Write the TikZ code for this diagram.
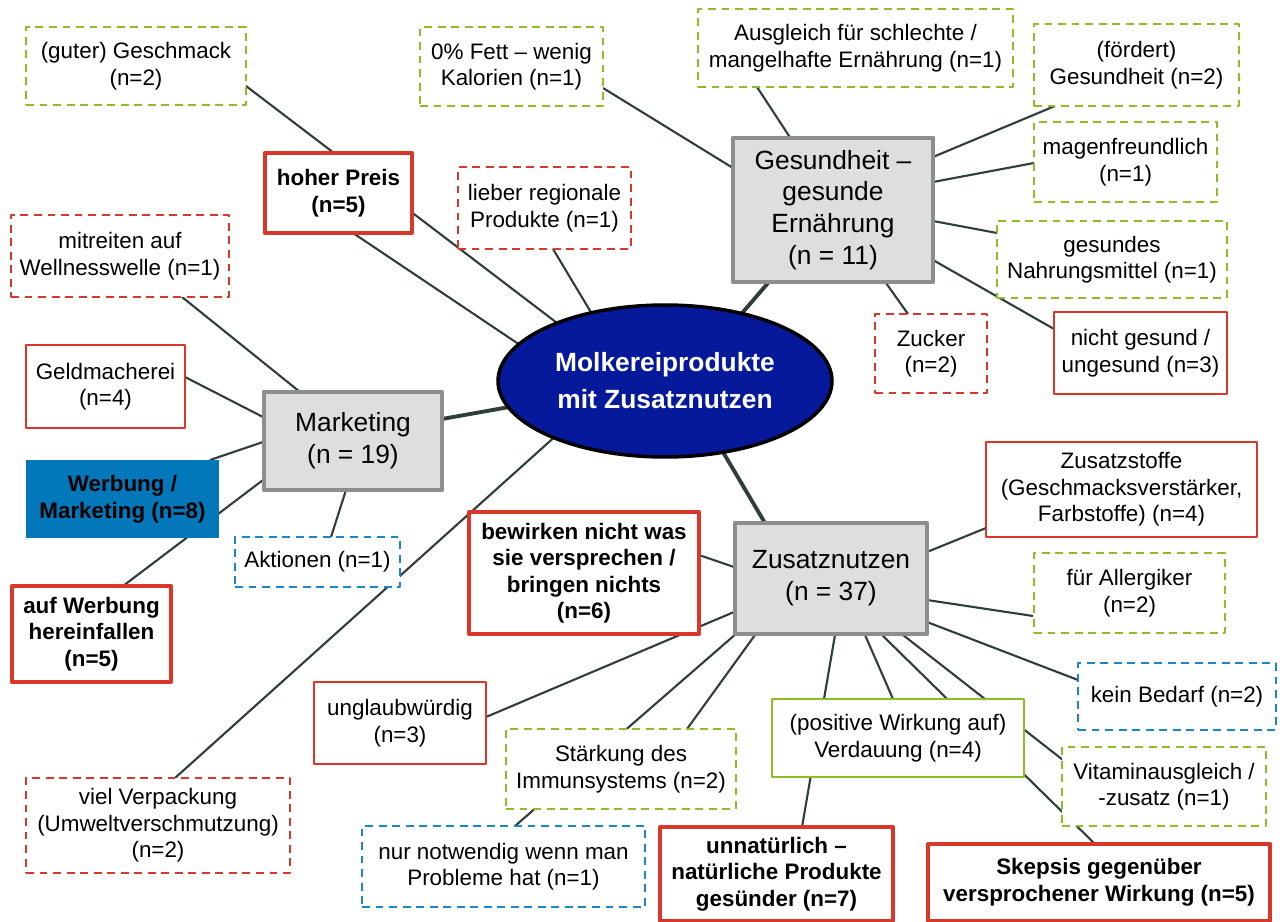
\documentclass[tikz,border=0pt]{standalone}
\usepackage{fontspec}
\setmainfont{Liberation Sans}
\usepackage{xcolor}
\usepackage{tikz}
\usetikzlibrary{calc,shapes.geometric}
\definecolor{linkgray}{RGB}{47,62,58}
\definecolor{leafgreen}{RGB}{140,190,38}
\definecolor{leafred}{RGB}{217,55,42}
\definecolor{leafblue}{RGB}{26,135,200}
\definecolor{adblue}{RGB}{2,120,186}
\definecolor{catfill}{RGB}{222,222,222}
\definecolor{catline}{RGB}{142,142,142}
\definecolor{coreblue}{RGB}{6,25,155}
\pgfdeclarelayer{background}
\pgfsetlayers{background,main}

\begin{document}
\begin{tikzpicture}[x=0.02cm, y=-0.02cm, line join=round,
    leaf/.style={rectangle, align=center, fill=white, inner sep=2pt, font=\fontsize{12.75}{15.1}\selectfont},
    greendash/.style={leaf, draw=leafgreen, line width=1.2pt, dash pattern=on 4.5pt off 3.2pt},
    reddash/.style={leaf, draw=leafred, line width=1.2pt, dash pattern=on 4.5pt off 3.2pt},
    bluedash/.style={leaf, draw=leafblue, line width=1.2pt, dash pattern=on 4.5pt off 3.2pt},
    redline/.style={leaf, draw=leafred, line width=1.3pt},
    greenline/.style={leaf, draw=leafgreen, line width=1.3pt},
    redbold/.style={leaf, draw=leafred, line width=2.4pt, font=\fontsize{12.75}{15.1}\selectfont\bfseries},
    category/.style={rectangle, align=center, fill=catfill, draw=catline, line width=2.8pt, font=\fontsize{15}{18.1}\selectfont},
    link/.style={draw=linkgray, line width=1.2pt},
    trunk/.style={draw=linkgray, line width=2.2pt}]

    \useasboundingbox (0,0) rectangle (1284,922);

    % centre
    \node[ellipse, fill=coreblue, draw=black, line width=2pt, minimum width=6.68cm, minimum height=3.04cm,
          inner sep=0pt, align=center, text=white, font=\fontsize{15}{21}\selectfont\bfseries]
          (core) at (665,381) {Molkereiprodukte\\mit Zusatznutzen};

    % gesundheit-branch
    \node[category, minimum width=4cm, minimum height=2.88cm] (gesundheit) at (833,210) {Gesundheit –\\gesunde\\Ernährung\\(n = 11)};
    \node[greendash, minimum width=3.66cm, minimum height=1.58cm] (fett) at (511.5,66.5) {0\% Fett – wenig\\Kalorien (n=1)};
    \node[greendash, minimum width=6.3cm, minimum height=1.56cm] (ausgleich) at (855.5,48) {Ausgleich für schlechte /\\mangelhafte Ernährung (n=1)};
    \node[greendash, minimum width=4.1cm, minimum height=1.64cm] (foerdert) at (1136.5,65) {(fördert)\\Gesundheit (n=2)};
    \node[greendash, minimum width=3.66cm, minimum height=1.6cm] (magen) at (1125.5,162) {magenfreundlich\\(n=1)};
    \node[greendash, minimum width=4.6cm, minimum height=1.54cm] (nahrung) at (1112,259.5) {gesundes\\Nahrungsmittel (n=1)};
    \node[redline, minimum width=3.46cm, minimum height=1.64cm] (ungesund) at (1140.5,353) {nicht gesund /\\ungesund (n=3)};
    \node[reddash, minimum width=2.24cm, minimum height=1.58cm] (zucker) at (931,353.5) {Zucker\\(n=2)};

    % loose leaves at the centre
    \node[greendash, minimum width=4.4cm, minimum height=1.56cm] (geschmack) at (136,66) {(guter) Geschmack\\(n=2)};
    \node[redbold, minimum width=2.94cm, minimum height=1.6cm] (preis) at (338.5,193) {hoher Preis\\(n=5)};
    \node[reddash, minimum width=3.46cm, minimum height=1.64cm] (regional) at (544.5,208) {lieber regionale\\Produkte (n=1)};
    \node[reddash, minimum width=5.28cm, minimum height=1.9cm] (verpackung) at (158,825.5) {viel Verpackung\\(Umweltverschmutzung)\\(n=2)};

    % marketing-branch
    \node[category, minimum width=3.56cm, minimum height=1.96cm] (marketing) at (353,441) {Marketing\\(n = 19)};
    \node[reddash, minimum width=4.36cm, minimum height=1.64cm] (wellness) at (120,256) {mitreiten auf\\Wellnesswelle (n=1)};
    \node[redline, minimum width=3.18cm, minimum height=1.66cm] (geld) at (105.5,386.5) {Geldmacherei\\(n=4)};
    \node[leaf, fill=adblue, minimum width=3.86cm, minimum height=1.56cm, font=\fontsize{12.75}{15.1}\selectfont\bfseries] (werbung) at (122.5,499) {Werbung /\\Marketing (n=8)};
    \node[bluedash, minimum width=3.3cm, minimum height=1cm] (aktionen) at (317.5,562) {Aktionen (n=1)};
    \node[redbold, minimum width=3.18cm, minimum height=1.92cm] (hereinfallen) at (91.5,634) {auf Werbung\\hereinfallen\\(n=5)};

    % zusatznutzen-branch
    \node[category, minimum width=3.84cm, minimum height=2.22cm] (zusatz) at (831,578.5) {Zusatznutzen\\(n = 37)};
    \node[redbold, minimum width=4.6cm, minimum height=2.44cm] (bewirken) at (584,573) {bewirken nicht was\\sie versprechen /\\bringen nichts\\(n=6)};
    \node[redline, minimum width=5.42cm, minimum height=1.9cm] (stoffe) at (1121.5,489.5) {Zusatzstoffe\\(Geschmacksverstärker,\\Farbstoffe) (n=4)};
    \node[greendash, minimum width=3.82cm, minimum height=1.6cm] (allergiker) at (1129.5,593) {für Allergiker\\(n=2)};
    \node[bluedash, minimum width=3.96cm, minimum height=1.34cm] (bedarf) at (1177,696.5) {kein Bedarf (n=2)};
    \node[redline, minimum width=3.44cm, minimum height=1.64cm] (unglaub) at (400,723) {unglaubwürdig\\(n=3)};
    \node[greendash, minimum width=4.6cm, minimum height=1.6cm] (staerkung) at (621,769) {Stärkung des\\Immunsystems (n=2)};
    \node[greenline, minimum width=5.04cm, minimum height=1.56cm] (verdauung) at (898,738) {(positive Wirkung auf)\\Verdauung (n=4)};
    \node[greendash, minimum width=4.08cm, minimum height=1.58cm] (vitamin) at (1164,786.5) {Vitaminausgleich /\\-zusatz (n=1)};
    \node[bluedash, minimum width=5.66cm, minimum height=1.62cm] (notwendig) at (503.5,866.5) {nur notwendig wenn man\\Probleme hat (n=1)};
    \node[redbold, minimum width=4.66cm, minimum height=1.88cm] (unnatuerlich) at (776.5,874) {unnatürlich –\\natürliche Produkte\\gesünder (n=7)};
    \node[redbold, minimum width=6.84cm, minimum height=1.54cm] (skepsis) at (1099,882.5) {Skepsis gegenüber\\versprochener Wirkung (n=5)};

    \begin{pgfonlayer}{background}
        % branches to the centre
        \draw[trunk] ($(gesundheit)+(-65,73)$) -- ($(core)+(72,-62)$);
        \draw[trunk] ($(marketing)+(89,-22)$) -- ($(core)+(-150,25)$);
        \draw[trunk] ($(zusatz)+(-66,-55.5)$) -- ($(core)+(55,66)$);
        \draw[link] ($(geschmack)+(110,20)$) -- ($(core)+(-104,-55)$);
        \draw[link] ($(preis)+(14.5,40)$) -- ($(core)+(-142,-34)$);
        \draw[link] ($(regional)+(8.5,41)$) -- ($(core)+(-70,-62)$);
        \draw[link] ($(verpackung)+(17,-47.5)$) -- ($(core)+(-106,52)$);

        % gesundheit-branch
        \draw[link] ($(fett)+(91.5,21.5)$) -- ($(gesundheit)+(-100,-42)$);
        \draw[link] ($(ausgleich)+(-98.5,39)$) -- ($(gesundheit)+(-40,-68)$);
        \draw[link] ($(foerdert)+(-81.5,41)$) -- ($(gesundheit)+(100,-53)$);
        \draw[link] ($(magen)+(-91.5,1)$) -- ($(gesundheit)+(100,-28)$);
        \draw[link] ($(nahrung)+(-115,-26.5)$) -- ($(gesundheit)+(100,11)$);
        \draw[link] ($(ungesund)+(-86.5,-24)$) -- ($(gesundheit)+(100,50)$);
        \draw[link] ($(zucker)+(-23,-39.5)$) -- ($(gesundheit)+(53,73)$);

        % marketing-branch
        \draw[link] ($(wellness)+(62,41)$) -- ($(marketing)+(-53,-49)$);
        \draw[link] ($(geld)+(79.5,-9.5)$) -- ($(marketing)+(-90,-24)$);
        \draw[link] ($(werbung)+(87.5,-39)$) -- ($(marketing)+(-90,1)$);
        \draw[link] ($(hereinfallen)+(31.5,-48)$) -- ($(marketing)+(-90,39)$);
        \draw[link] ($(aktionen)+(13.5,-25)$) -- ($(marketing)+(-7,49)$);

        % zusatznutzen-branch
        \draw[link] ($(stoffe)+(-135.5,38.5)$) -- ($(zusatz)+(96,-26.5)$);
        \draw[link] ($(allergiker)+(-96.5,23)$) -- ($(zusatz)+(96,21.5)$);
        \draw[link] ($(bedarf)+(-99,-16.5)$) -- ($(zusatz)+(96,43.5)$);
        \draw[link] ($(bewirken)+(115,-18)$) -- ($(zusatz)+(-97,-11.5)$);
        \draw[link] ($(unglaub)+(86,-6)$) -- ($(zusatz)+(-97,33.5)$);
        \draw[link] ($(notwendig)+(11.5,-40.5)$) -- ($(zusatz)+(-94,54.5)$);
        \draw[link] ($(staerkung)+(66,-40)$) -- ($(zusatz)+(-76,56.5)$);
        \draw[link] ($(unnatuerlich)+(25.5,-47)$) -- ($(zusatz)+(4,56.5)$);
        \draw[link] ($(verdauung)+(-5,-39)$) -- ($(zusatz)+(34,56.5)$);
        \draw[link] ($(skepsis)+(-4,-38.5)$) -- ($(zusatz)+(51,56.5)$);
        \draw[link] ($(vitamin)+(-101,-26.5)$) -- ($(zusatz)+(72,56.5)$);
    \end{pgfonlayer}

\end{tikzpicture}
\end{document}
